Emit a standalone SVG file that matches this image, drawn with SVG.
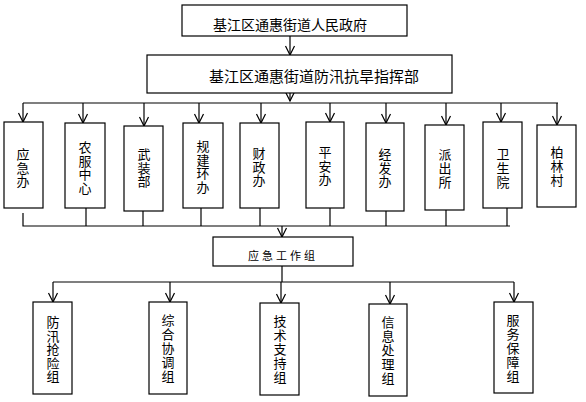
<svg xmlns="http://www.w3.org/2000/svg" width="586" height="402" viewBox="0 0 586 402">
<style>
.box{fill:#fff;stroke:#000;stroke-width:1.2}
.ln{fill:none;stroke:#000;stroke-width:1.2}
.ar{fill:none;stroke:#000;stroke-width:1.2;marker-end:url(#arr)}
text{font-family:"Noto Sans CJK SC","Noto Sans CJK JP",sans-serif;fill:#000;text-anchor:middle}
.v{font-size:13px}
</style>
<defs>
<marker id="arr" markerUnits="userSpaceOnUse" viewBox="-1 -6 11 12" markerWidth="11" markerHeight="12" refX="9" refY="0" orient="auto">
<path d="M0,-4.5 L9,0 L0,4.5" fill="none" stroke="#000" stroke-width="1.2"/>
</marker>
</defs>
<g id="connectors">
<path class="ar" d="M290,36 V55"/>
<path class="ar" d="M290,93 V101"/>
<path class="ln" d="M23,103 H558"/>
<path class="ar" d="M23,103 V122"/>
<path class="ar" d="M83,103 V123"/>
<path class="ar" d="M144,103 V126"/>
<path class="ar" d="M199,103 V123"/>
<path class="ar" d="M261,103 V123"/>
<path class="ar" d="M330,103 V122"/>
<path class="ar" d="M386,103 V123"/>
<path class="ar" d="M446,103 V125"/>
<path class="ar" d="M501,103 V122"/>
<path class="ar" d="M557,103 V125"/>
<path class="ln" d="M23,213 V226 H510"/>
<path class="ln" d="M86,208 V226"/>
<path class="ln" d="M143,211 V226"/>
<path class="ln" d="M201,208 V226"/>
<path class="ln" d="M260,208 V226"/>
<path class="ln" d="M330,208 V226"/>
<path class="ln" d="M386,211 V226"/>
<path class="ln" d="M446,210 V226"/>
<path class="ln" d="M507,208 V226"/>
<path class="ar" d="M282,226 V237"/>
<path class="ln" d="M282,266 V282"/>
<path class="ln" d="M53,282 H514"/>
<path class="ar" d="M53,282 V302"/>
<path class="ar" d="M170,282 V302"/>
<path class="ar" d="M281,282 V303"/>
<path class="ar" d="M390,282 V304"/>
<path class="ar" d="M514,282 V302"/>
</g>
<g id="gov"><rect class="box" x="182" y="5" width="225" height="31"/><text x="290" y="30" font-size="14">基江区通惠街道人民政府</text></g>
<g id="hq"><rect class="box" x="147" y="55" width="305" height="38"/><text x="314" y="82" font-size="15">基江区通惠街道防汛抗旱指挥部</text></g>
<g id="n1"><rect class="box" x="4" y="122" width="39" height="86"/><text class="v"><tspan x="23" y="159">应</tspan><tspan x="23" y="172.5">急</tspan><tspan x="23" y="186">办</tspan></text></g>
<g id="n2"><rect class="box" x="65" y="123" width="40" height="85"/><text class="v"><tspan x="85" y="152">农</tspan><tspan x="85" y="165.5">服</tspan><tspan x="85" y="179">中</tspan><tspan x="85" y="192.5">心</tspan></text></g>
<g id="n3"><rect class="box" x="124" y="126" width="39" height="85"/><text class="v"><tspan x="144" y="159">武</tspan><tspan x="144" y="172.5">装</tspan><tspan x="144" y="186">部</tspan></text></g>
<g id="n4"><rect class="box" x="183" y="123" width="40" height="85"/><text class="v"><tspan x="203" y="151">规</tspan><tspan x="203" y="164.5">建</tspan><tspan x="203" y="178">环</tspan><tspan x="203" y="191.5">办</tspan></text></g>
<g id="n5"><rect class="box" x="240" y="123" width="39" height="85"/><text class="v"><tspan x="259" y="158">财</tspan><tspan x="259" y="171.5">政</tspan><tspan x="259" y="185">办</tspan></text></g>
<g id="n6"><rect class="box" x="306" y="122" width="38" height="86"/><text class="v"><tspan x="325" y="157">平</tspan><tspan x="325" y="170.5">安</tspan><tspan x="325" y="184">办</tspan></text></g>
<g id="n7"><rect class="box" x="366" y="123" width="38" height="88"/><text class="v"><tspan x="385" y="159">经</tspan><tspan x="385" y="172.5">发</tspan><tspan x="385" y="186">办</tspan></text></g>
<g id="n8"><rect class="box" x="425" y="125" width="39" height="85"/><text class="v"><tspan x="445" y="159">派</tspan><tspan x="445" y="173">出</tspan><tspan x="445" y="187">所</tspan></text></g>
<g id="n9"><rect class="box" x="483" y="122" width="39" height="86"/><text class="v"><tspan x="503" y="159">卫</tspan><tspan x="503" y="173">生</tspan><tspan x="503" y="187">院</tspan></text></g>
<g id="n10"><rect class="box" x="537" y="125" width="39" height="82"/><text class="v"><tspan x="557" y="157">柏</tspan><tspan x="557" y="171">林</tspan><tspan x="557" y="185">村</tspan></text></g>
<g id="wg"><rect class="box" x="213" y="237" width="140" height="29"/><text x="283" y="260" font-size="11" letter-spacing="3">应急工作组</text></g>
<g id="g1"><rect class="box" x="33" y="302" width="39" height="92"/><text class="v"><tspan x="53" y="327">防</tspan><tspan x="53" y="340.5">汛</tspan><tspan x="53" y="354">抢</tspan><tspan x="53" y="367.5">险</tspan><tspan x="53" y="381">组</tspan></text></g>
<g id="g2"><rect class="box" x="149" y="302" width="38" height="92"/><text class="v"><tspan x="168" y="325">综</tspan><tspan x="168" y="339">合</tspan><tspan x="168" y="353">协</tspan><tspan x="168" y="367">调</tspan><tspan x="168" y="381">组</tspan></text></g>
<g id="g3"><rect class="box" x="260" y="303" width="39" height="92"/><text class="v"><tspan x="280" y="326">技</tspan><tspan x="280" y="340">术</tspan><tspan x="280" y="354">支</tspan><tspan x="280" y="368">持</tspan><tspan x="280" y="382">组</tspan></text></g>
<g id="g4"><rect class="box" x="369" y="304" width="38" height="92"/><text class="v"><tspan x="388" y="327">信</tspan><tspan x="388" y="341">息</tspan><tspan x="388" y="355">处</tspan><tspan x="388" y="369">理</tspan><tspan x="388" y="383">组</tspan></text></g>
<g id="g5"><rect class="box" x="494" y="302" width="39" height="91"/><text class="v"><tspan x="513" y="325">服</tspan><tspan x="513" y="339">务</tspan><tspan x="513" y="353">保</tspan><tspan x="513" y="367">障</tspan><tspan x="513" y="381">组</tspan></text></g>
</svg>
